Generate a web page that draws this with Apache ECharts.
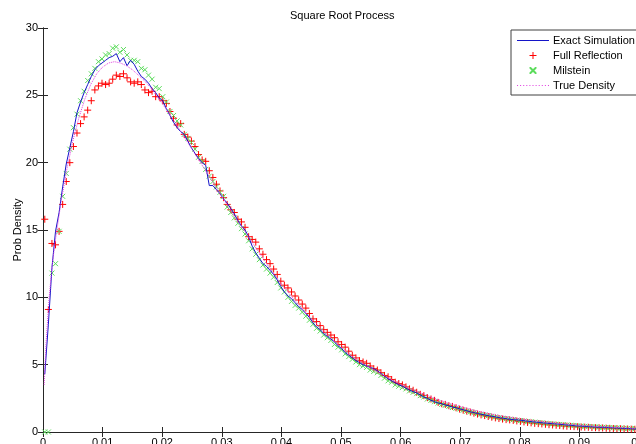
<!DOCTYPE html>
<html>
<head>
<meta charset="utf-8">
<script src="https://cdn.jsdelivr.net/npm/echarts@6/dist/echarts.min.js"></script>
<style>
  html, body { margin: 0; padding: 0; background: #fff; }
  #chart { width: 636px; height: 444px; }
</style>
</head>
<body>
<div id="chart"></div>
<script>
// histogram bin centres (x)
var xBins = [
  0.0003, 0.0009, 0.0015, 0.0021, 0.0027, 0.0033, 0.0039, 0.0045, 0.0051, 0.0057,
  0.0063, 0.0069, 0.0075, 0.0081, 0.0087, 0.0093, 0.0099, 0.0105, 0.0111, 0.0117,
  0.0123, 0.0129, 0.0135, 0.0141, 0.0147, 0.0153, 0.0159, 0.0165, 0.0171, 0.0177,
  0.0183, 0.0189, 0.0195, 0.0201, 0.0207, 0.0213, 0.0219, 0.0225, 0.0231, 0.0237,
  0.0243, 0.0249, 0.0255, 0.0261, 0.0267, 0.0273, 0.0279, 0.0285, 0.0291, 0.0297,
  0.0303, 0.0309, 0.0315, 0.0321, 0.0327, 0.0333, 0.0339, 0.0345, 0.0351, 0.0357,
  0.0363, 0.0369, 0.0375, 0.0381, 0.0387, 0.0393, 0.0399, 0.0405, 0.0411, 0.0417,
  0.0423, 0.0429, 0.0435, 0.0441, 0.0447, 0.0453, 0.0459, 0.0465, 0.0471, 0.0477,
  0.0483, 0.0489, 0.0495, 0.0501, 0.0507, 0.0513, 0.0519, 0.0525, 0.0531, 0.0537,
  0.0543, 0.0549, 0.0555, 0.0561, 0.0567, 0.0573, 0.0579, 0.0585, 0.0591, 0.0597,
  0.0603, 0.0609, 0.0615, 0.0621, 0.0627, 0.0633, 0.0639, 0.0645, 0.0651, 0.0657,
  0.0663, 0.0669, 0.0675, 0.0681, 0.0687, 0.0693, 0.0699, 0.0705, 0.0711, 0.0717,
  0.0723, 0.0729, 0.0735, 0.0741, 0.0747, 0.0753, 0.0759, 0.0765, 0.0771, 0.0777,
  0.0783, 0.0789, 0.0795, 0.0801, 0.0807, 0.0813, 0.0819, 0.0825, 0.0831, 0.0837,
  0.0843, 0.0849, 0.0855, 0.0861, 0.0867, 0.0873, 0.0879, 0.0885, 0.0891, 0.0897,
  0.0903, 0.0909, 0.0915, 0.0921, 0.0927, 0.0933, 0.0939, 0.0945, 0.0951, 0.0957,
  0.0963, 0.0969, 0.0975, 0.0981, 0.0987, 0.0993, 0.0999
];

// Exact Simulation (blue line)
var exactSim = [
  4.3, 8.0, 12.2, 14.9, 16.3, 18.2, 19.9, 21.1, 22.3, 23.7,
  24.5, 25.2, 25.8, 26.4, 26.9, 27.2, 27.4, 27.6, 27.8, 27.9,
  28.1, 27.5, 27.8, 27.2, 27.6, 27.3, 26.8, 26.4, 26.2, 25.9,
  25.5, 25.2, 24.8, 24.6, 24.0, 23.5, 23.0, 22.6, 22.3, 22.1,
  21.6, 21.1, 20.7, 20.3, 20.0, 19.8, 18.3, 18.3, 18.0, 17.7,
  17.3, 17.0, 16.6, 16.2, 15.7, 15.3, 15.0, 14.5, 13.8, 13.3,
  12.9, 12.5, 12.3, 12.0, 11.7, 11.3, 10.8, 10.4, 10.1, 9.9,
  9.6, 9.3, 9.1, 8.8, 8.5, 8.1, 7.8, 7.6, 7.3, 7.1,
  6.9, 6.7, 6.4, 6.2, 5.9, 5.7, 5.5, 5.3, 5.15, 5.0,
  4.9, 4.8, 4.7, 4.55, 4.35, 4.15, 3.95, 3.8, 3.65, 3.5,
  3.4, 3.25, 3.1, 3.0, 2.9, 2.75, 2.6, 2.5, 2.35, 2.25,
  2.15, 2.1, 2.0, 1.95, 1.85, 1.8, 1.72, 1.65, 1.58, 1.5,
  1.44, 1.38, 1.32, 1.27, 1.22, 1.17, 1.12, 1.07, 1.03, 0.99,
  0.95, 0.92, 0.9, 0.87, 0.84, 0.8, 0.77, 0.74, 0.71, 0.69,
  0.66, 0.64, 0.62, 0.6, 0.57, 0.55, 0.52, 0.5, 0.47, 0.45,
  0.44, 0.42, 0.4, 0.39, 0.37, 0.36, 0.35, 0.34, 0.32, 0.31,
  0.3, 0.28, 0.27, 0.26, 0.24, 0.23, 0.22
];

// Full Reflection (red +)
var fullReflection = [
  15.8, 9.1, 14.0, 13.9, 14.9, 16.9, 18.6, 20.0, 21.2, 22.2,
  22.9, 23.4, 23.9, 24.6, 25.4, 25.7, 25.9, 25.8, 25.9, 26.2,
  26.5, 26.4, 26.6, 26.3, 26.0, 25.9, 26.0, 25.8, 25.4, 25.2,
  25.3, 24.9, 24.9, 24.6, 24.4, 23.8, 23.3, 22.8, 22.9, 22.1,
  21.9, 21.6, 21.2, 20.6, 20.2, 20.1, 19.4, 18.9, 18.4, 17.9,
  17.4, 16.9, 16.5, 16.3, 15.8, 15.6, 15.2, 14.5, 14.3, 14.1,
  13.6, 13.2, 12.8, 12.5, 12.1, 11.7, 11.2, 10.9, 10.7, 10.4,
  10.1, 9.8, 9.5, 9.2, 8.8, 8.4, 8.2, 7.9, 7.6, 7.4,
  7.2, 7.0, 6.7, 6.5, 6.3, 6.0, 5.7, 5.5, 5.3, 5.2,
  5.1, 4.9, 4.7, 4.6, 4.4, 4.2, 4.1, 3.9, 3.7, 3.6,
  3.5, 3.35, 3.2, 3.1, 2.95, 2.8, 2.7, 2.55, 2.45, 2.35,
  2.2, 2.1, 2.05, 1.95, 1.9, 1.8, 1.7, 1.62, 1.55, 1.48,
  1.4, 1.33, 1.27, 1.22, 1.15, 1.1, 1.05, 1.0, 0.96, 0.92,
  0.9, 0.86, 0.82, 0.78, 0.75, 0.71, 0.68, 0.64, 0.62, 0.6,
  0.57, 0.54, 0.52, 0.5, 0.48, 0.45, 0.43, 0.42, 0.4, 0.39,
  0.37, 0.36, 0.35, 0.33, 0.32, 0.31, 0.3, 0.28, 0.27, 0.26,
  0.25, 0.24, 0.23, 0.22, 0.21, 0.2, 0.2
];

// Milstein (green x)
var milstein = [
  0, 0, 11.8, 12.5, 14.9, 17.5, 19.2, 21.0, 22.6, 23.6,
  24.6, 25.3, 26.1, 26.6, 27.0, 27.5, 27.7, 28.0, 28.1, 28.5,
  28.6, 28.2, 28.4, 28.0, 27.6, 27.6, 27.5, 27.0, 26.9, 26.5,
  26.2, 25.6, 25.5, 24.9, 24.5, 23.8, 23.5, 23.1, 22.8, 22.1,
  21.8, 21.5, 21.0, 20.4, 20.1, 19.5, 19.0, 18.6, 18.2, 17.8,
  17.5, 16.7, 16.3, 15.9, 15.5, 15.1, 14.7, 14.2, 13.6, 13.2,
  12.8, 12.4, 12.1, 11.8, 11.5, 11.1, 10.7, 10.4, 10.0, 9.7,
  9.4, 9.2, 8.9, 8.6, 8.3, 8.0, 7.7, 7.5, 7.2, 7.0,
  6.8, 6.5, 6.3, 6.1, 5.8, 5.6, 5.4, 5.2, 5.0, 4.9,
  4.8, 4.6, 4.5, 4.4, 4.2, 4.0, 3.8, 3.7, 3.5, 3.4,
  3.3, 3.2, 3.05, 2.95, 2.85, 2.7, 2.6, 2.45, 2.35, 2.25,
  2.15, 2.05, 1.98, 1.9, 1.82, 1.76, 1.7, 1.62, 1.55, 1.49,
  1.43, 1.37, 1.31, 1.26, 1.21, 1.16, 1.11, 1.06, 1.02, 0.98,
  0.95, 0.91, 0.88, 0.85, 0.82, 0.79, 0.76, 0.73, 0.7, 0.68,
  0.65, 0.63, 0.6, 0.58, 0.56, 0.54, 0.52, 0.5, 0.48, 0.46,
  0.44, 0.42, 0.41, 0.39, 0.38, 0.36, 0.35, 0.34, 0.33, 0.31,
  0.3, 0.29, 0.28, 0.27, 0.26, 0.25, 0.24
];

// True Density (magenta dotted)
var densityX = [
  0.0002, 0.0005, 0.001, 0.0015, 0.002, 0.003, 0.004, 0.005, 0.006, 0.007,
  0.008, 0.009, 0.010, 0.011, 0.012, 0.013, 0.014, 0.015, 0.016, 0.017,
  0.018, 0.019, 0.020, 0.022, 0.024, 0.026, 0.028, 0.030, 0.032, 0.034,
  0.036, 0.038, 0.040, 0.042, 0.044, 0.046, 0.048, 0.050, 0.052, 0.054,
  0.056, 0.058, 0.060, 0.062, 0.064, 0.066, 0.068, 0.070, 0.072, 0.074,
  0.076, 0.078, 0.080, 0.082, 0.084, 0.086, 0.088, 0.090, 0.092, 0.094,
  0.096, 0.098, 0.100
];
var trueDensity = [
  3.5, 6.5, 9.8, 12.2, 14.0, 17.0, 19.5, 21.6, 23.3, 24.7,
  25.8, 26.6, 27.1, 27.4, 27.5, 27.4, 27.2, 26.9, 26.5, 26.1,
  25.6, 25.0, 24.4, 23.1, 21.7, 20.3, 18.9, 17.5, 16.1, 14.8,
  13.5, 12.2, 11.0, 9.9, 8.9, 8.0, 7.1, 6.3, 5.6, 5.0,
  4.5, 4.0, 3.55, 3.15, 2.8, 2.45, 2.15, 1.9, 1.65, 1.45,
  1.27, 1.12, 0.98, 0.86, 0.75, 0.66, 0.58, 0.5, 0.44, 0.39,
  0.34, 0.3, 0.26
];

var FONT = 'Liberation Sans, Arial, sans-serif';
var BLUE = '#1414c8', RED = '#ff0000', GREEN = '#5cdc5c', PINK = '#e040e0';

// marker glyphs
var plusPath = 'path://M5,0 L5,10 M0,5 L10,5';
var crossPath = 'path://M0,0 L10,10 M10,0 L0,10';
// legend icons (filled shapes)
var lineIcon = 'path://M0,0h32v1h-32z';
var dotIcon = 'path://M0,0h1v1h-1z M3,0h1v1h-1z M6,0h1v1h-1z M9,0h1v1h-1z M12,0h1v1h-1z M15,0h1v1h-1z M18,0h1v1h-1z M21,0h1v1h-1z M24,0h1v1h-1z M27,0h1v1h-1z M30,0h1v1h-1z';
var plusIcon = 'path://M3,0h1v7h-1z M0,3h7v1h-7z';
var crossIcon = 'path://M0,0 L1,0 L5,4 L5,5 L4,5 L0,1 Z M4,0 L5,0 L5,1 L1,5 L0,5 L0,4 Z';

function pairs(xs, ys) {
  return xs.map(function (x, i) { return [x, ys[i]]; });
}

var chart = echarts.init(document.getElementById('chart'), null, { renderer: 'canvas' });

var option = {
  animation: false,
  backgroundColor: '#ffffff',
  textStyle: { fontFamily: FONT },
  title: {
    text: 'Square Root Process',
    left: 290,
    top: 10,
    padding: 0,
    textStyle: { fontFamily: FONT, fontSize: 11, fontWeight: 'normal', color: '#000' }
  },
  legend: {
    orient: 'vertical',
    left: 511,
    top: 30,
    padding: [5, 10, 4, 6],
    itemWidth: 32,
    itemHeight: 7,
    itemGap: 4,
    backgroundColor: '#fff',
    borderColor: '#404040',
    borderWidth: 1,
    borderRadius: 0,
    itemStyle: { borderWidth: 0 },
    textStyle: { fontFamily: FONT, fontSize: 11, lineHeight: 10, color: '#000', padding: [0, 0, 0, -1] },
    data: [
      { name: 'Exact Simulation', icon: lineIcon, itemStyle: { color: BLUE } },
      { name: 'Full Reflection', icon: plusIcon, itemStyle: { color: RED } },
      { name: 'Milstein', icon: crossIcon, itemStyle: { color: GREEN } },
      { name: 'True Density', icon: dotIcon, itemStyle: { color: PINK } }
    ]
  },
  grid: { left: 43, top: 28, width: 596, height: 404, containLabel: false, outerBoundsMode: 'none' },
  xAxis: [{
    type: 'value',
    min: 0,
    max: 0.1,
    interval: 0.01,
    position: 'bottom',
    splitLine: { show: false },
    axisLine: { lineStyle: { color: '#262626', width: 1 } },
    axisTick: { inside: true, length: 5, lineStyle: { color: '#262626' } },
    axisLabel: {
      margin: 5, fontFamily: FONT, fontSize: 11, color: '#000',
      formatter: function (v) { return String(+v.toFixed(2)); }
    }
  }, {
    type: 'value',
    min: 0,
    max: 0.1,
    interval: 0.01,
    position: 'top',
    splitLine: { show: false },
    axisLine: { lineStyle: { color: '#262626', width: 1 } },
    axisTick: { inside: true, length: 5, lineStyle: { color: '#262626' } },
    axisLabel: { show: false }
  }],
  yAxis: [{
    type: 'value',
    min: 0,
    max: 30,
    interval: 5,
    position: 'left',
    name: 'Prob Density',
    nameLocation: 'middle',
    nameGap: 20,
    nameMoveOverlap: false,
    nameTextStyle: { fontFamily: FONT, fontSize: 11, color: '#000' },
    splitLine: { show: false },
    axisLine: { show: true, lineStyle: { color: '#262626', width: 1 } },
    axisTick: { show: true, inside: true, length: 5, lineStyle: { color: '#262626' } },
    axisLabel: { margin: 5, fontFamily: FONT, fontSize: 11, color: '#000' }
  }, {
    type: 'value',
    min: 0,
    max: 30,
    interval: 5,
    position: 'right',
    splitLine: { show: false },
    axisLine: { show: true, lineStyle: { color: '#262626', width: 1 } },
    axisTick: { show: true, inside: true, length: 5, lineStyle: { color: '#262626' } },
    axisLabel: { show: false }
  }],
  series: [
    {
      name: 'Exact Simulation',
      type: 'line',
      data: pairs(xBins, exactSim),
      symbol: 'none',
      showSymbol: false,
      itemStyle: { color: BLUE },
      lineStyle: { color: BLUE, width: 1 }
    },
    {
      name: 'Full Reflection',
      type: 'scatter',
      data: pairs(xBins, fullReflection),
      symbol: plusPath,
      symbolSize: 7,
      itemStyle: { color: RED, borderColor: RED, borderWidth: 1, opacity: 1 }
    },
    {
      name: 'Milstein',
      type: 'scatter',
      data: pairs(xBins, milstein),
      symbol: crossPath,
      symbolSize: 5,
      itemStyle: { color: GREEN, borderColor: GREEN, borderWidth: 1, opacity: 1 }
    },
    {
      name: 'True Density',
      type: 'line',
      data: pairs(densityX, trueDensity),
      symbol: 'none',
      showSymbol: false,
      itemStyle: { color: PINK },
      lineStyle: { color: PINK, width: 1, type: 'dotted' }
    }
  ]
};

chart.setOption(option);
</script>
</body>
</html>
